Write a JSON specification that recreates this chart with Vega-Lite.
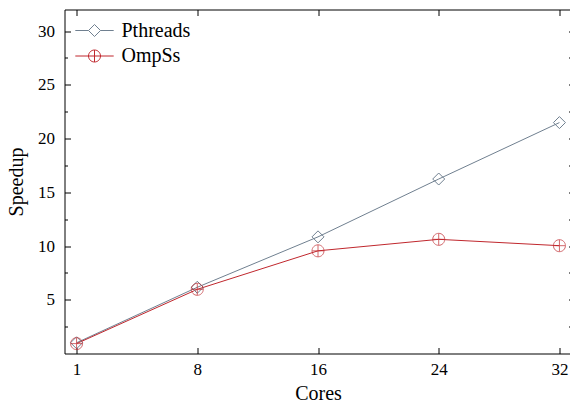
{
  "$schema": "https://vega.github.io/schema/vega-lite/v6.json",
  "width": 507,
  "height": 344,
  "autosize": "none",
  "padding": {"left": 64.5, "top": 9.5, "right": 0, "bottom": 50},
  "background": "white",
  "config": {
    "view": {"stroke": "black", "strokeWidth": 1},
    "font": "Liberation Serif",
    "axis": {
      "labelFont": "Liberation Serif",
      "titleFont": "Liberation Serif",
      "labelColor": "black",
      "titleColor": "black",
      "tickColor": "black",
      "titleFontWeight": "normal",
      "grid": false,
      "domain": false,
      "labelFontSize": 17,
      "titleFontSize": 20
    },
    "legend": {
      "labelFont": "Liberation Serif",
      "labelFontSize": 20,
      "labelColor": "black"
    }
  },
  "data": {
    "values": [
      {"cores": 1, "speedup": 1.0, "series": "Pthreads"},
      {"cores": 8, "speedup": 6.16, "series": "Pthreads"},
      {"cores": 16, "speedup": 10.85, "series": "Pthreads"},
      {"cores": 24, "speedup": 16.23, "series": "Pthreads"},
      {"cores": 32, "speedup": 21.48, "series": "Pthreads"},
      {"cores": 1, "speedup": 0.92, "series": "OmpSs"},
      {"cores": 8, "speedup": 5.97, "series": "OmpSs"},
      {"cores": 16, "speedup": 9.55, "series": "OmpSs"},
      {"cores": 24, "speedup": 10.62, "series": "OmpSs"},
      {"cores": 32, "speedup": 10.03, "series": "OmpSs"}
    ]
  },
  "layer": [
    {
      "encoding": {
        "x": {
          "field": "cores",
          "type": "ordinal",
          "scale": {"type": "point", "padding": 0.1},
          "axis": {
            "orient": "bottom",
            "title": "Cores",
            "labelAngle": 0,
            "tickSize": -6,
            "labelPadding": 14,
            "titlePadding": 6
          }
        },
        "y": {
          "field": "speedup",
          "type": "quantitative",
          "scale": {"domain": [0, 32], "nice": false},
          "axis": {
            "orient": "left",
            "title": "Speedup",
            "values": [5, 10, 15, 20, 25, 30],
            "labelExpr": "'' + datum.value",
            "tickSize": -6,
            "labelPadding": 16,
            "titlePadding": 11
          }
        },
        "color": {
          "field": "series",
          "type": "nominal",
          "scale": {"domain": ["Pthreads", "OmpSs"], "range": ["#708090", "#c0272d"]},
          "legend": {
            "title": null,
            "orient": "none",
            "legendX": 20,
            "legendY": 11,
            "padding": 0,
            "symbolSize": 144,
            "symbolStrokeWidth": 1,
            "labelOffset": 17,
            "rowPadding": 5.5,
            "encode": {
              "symbols": {
                "update": {
                  "shape": {"signal": "datum.value === 'Pthreads' ? 'M-3.2,0L-1,0M1,0L3.2,0M-1,0L0,-1L1,0L0,1Z' : 'M-3.2,0L-1,0M1,0L3.2,0M-1,0A1,1,0,1,0,1,0A1,1,0,1,0,-1,0ZM-1,0L1,0M0,-1L0,1'"},
                  "fill": {"value": "transparent"},
                  "strokeWidth": {"value": 1}
                }
              }
            }
          }
        }
      },
      "layer": [
        {
          "mark": {"type": "line", "strokeWidth": 1}
        },
        {
          "mark": {"type": "point", "filled": false, "size": 144, "strokeWidth": 1},
          "encoding": {
            "opacity": {"condition": {"test": "datum.series === 'OmpSs'", "value": 0.7}, "value": 1},
            "shape": {"condition": {"test": "datum.series === 'OmpSs'", "value": "M-1,0A1,1,0,1,0,1,0A1,1,0,1,0,-1,0ZM-1,0L1,0M0,-1L0,1"}, "value": "M-1,0L0,-1L1,0L0,1Z"}
          }
        }
      ]
    },
    {
      "mark": {"type": "point", "opacity": 0},
      "encoding": {
        "x": {
          "field": "cores",
          "type": "ordinal",
          "scale": {"type": "point", "padding": 0.1},
          "axis": {"orient": "top", "title": null, "labels": false, "tickSize": -6}
        },
        "y": {
          "field": "speedup",
          "type": "quantitative",
          "scale": {"domain": [0, 32], "nice": false},
          "axis": {
            "orient": "right",
            "title": null,
            "labels": false,
            "values": [2.5, 5, 7.5, 10, 12.5, 15, 17.5, 20, 22.5, 25, 27.5, 30],
            "tickSize": -3
          }
        }
      }
    },
    {
      "mark": {"type": "point", "opacity": 0},
      "encoding": {
        "x": {
          "field": "cores",
          "type": "ordinal",
          "scale": {"type": "point", "padding": 0.1},
          "axis": null
        },
        "y": {
          "field": "speedup",
          "type": "quantitative",
          "scale": {"domain": [0, 32], "nice": false},
          "axis": {
            "orient": "left",
            "title": null,
            "labels": false,
            "values": [2.5, 7.5, 12.5, 17.5, 22.5, 27.5],
            "tickSize": -3
          }
        }
      }
    }
  ],
  "resolve": {"axis": {"x": "independent", "y": "independent"}}
}
